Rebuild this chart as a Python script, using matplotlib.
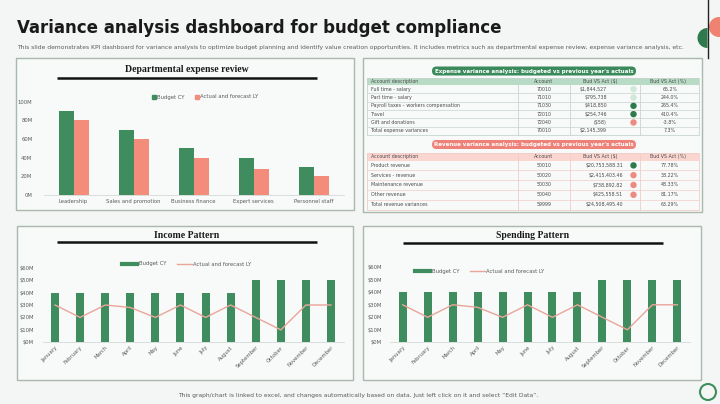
import matplotlib
matplotlib.use('Agg')
import matplotlib.pyplot as plt
from matplotlib import font_manager
from matplotlib.patches import Rectangle, FancyBboxPatch, Circle, Wedge
from matplotlib.lines import Line2D

# ---------------- data ----------------
dept_categories = ['Leadership', 'Sales and promotion', 'Business finance', 'Expert services', 'Personnel staff']
dept_budget_cy = [90, 70, 50, 40, 30]
dept_actual_ly = [80, 60, 40, 28, 20]
dept_yticks = [0, 20, 40, 60, 80, 100]
dept_ytick_labels = ['0M', '20M', '40M', '60M', '80M', '100M']

months = ['January', 'February', 'March', 'April', 'May', 'June', 'July', 'August',
          'September', 'October', 'November', 'December']
income_budget_cy = [40, 40, 40, 40, 40, 40, 40, 40, 50, 50, 50, 50]
income_actual_ly = [30, 20, 30, 28, 20, 30, 20, 30, 20, 10, 30, 30]
spending_budget_cy = [40, 40, 40, 40, 40, 40, 40, 40, 50, 50, 50, 50]
spending_actual_ly = [30, 20, 30, 28, 20, 30, 20, 30, 20, 10, 30, 30]
pattern_yticks = [0, 10, 20, 30, 40, 50, 60]
pattern_ytick_labels = ['$0M', '$10M', '$20M', '$30M', '$40M', '$50M', '$60M']

table_headers = ['Account description', 'Account', 'Bud VS Act ($)', 'Bud VS Act (%)']
expense_desc = ['Full time - salary', 'Part time - salary', 'Payroll taxes \u2013 workers compensation',
                'Travel', 'Gift and donations', 'Total expense variances']
expense_account = ['70010', '71010', '71030', '72010', '72040', '70010']
expense_amount = ['$1,844,527', '$795,738', '$418,850', '$254,746', '($58)', '$2,145,399']
expense_flag = ['light', 'light', 'dark', 'dark', 'red', None]
expense_pct = ['65.2%', '244.0%', '265.4%', '410.4%', '-3.8%', '7.3%']

revenue_desc = ['Product revenue', 'Services - revenue', 'Maintenance revenue', 'Other revenue',
                'Total revenue variances']
revenue_account = ['50010', '50020', '50030', '50040', '59999']
revenue_amount = ['$20,753,588.31', '$2,415,403.46', '$738,892.82', '$425,558.51', '$24,508,495.40']
revenue_flag = ['dark', 'red', 'red', 'red', None]
revenue_pct = ['77.78%', '38.22%', '48.33%', '81.17%', '63.29%']

# ---------------- style ----------------
GREEN = '#3f8d5e'
SALMON = '#f48c7b'
LINE_SALMON = '#eaa59b'
BG = '#f3f6f4'
PANEL = '#f7faf8'
EDGE = '#aab8af'
TXT = '#5a5a5a'
FLAG_COL = {'light': '#cfe8d8', 'dark': '#2f7a4d', 'red': '#ee8a84'}

# pick a narrow bold face for the headline if one is installed
TITLE_FONT = dict(family='Roboto')
narrow = [f for f in font_manager.fontManager.ttflist
          if (('Narrow' in f.name or 'Condensed' in f.name) or
              str(f.stretch) in ('condensed', 'semi-condensed', 'extra-condensed'))]
for f in narrow:
    if f.name.startswith(('Liberation', 'Roboto', 'Open Sans', 'Noto Sans', 'DejaVu Sans')):
        TITLE_FONT = dict(family=f.name, fontstretch=str(f.stretch))
        break

W, H = 720, 404
fig = plt.figure(figsize=(7.2, 4.04), dpi=100)
fig.patch.set_facecolor(BG)

ov = fig.add_axes([0, 0, 1, 1], zorder=0)
ov.set_xlim(0, W)
ov.set_ylim(H, 0)
ov.axis('off')


def ax_px(x0, y0, x1, y1, z=2):
    a = fig.add_axes([x0 / W, 1 - y1 / H, (x1 - x0) / W, (y1 - y0) / H], zorder=z)
    a.patch.set_alpha(0)
    return a


def fit(t, width_px):
    r = fig.canvas.get_renderer()
    bb = t.get_window_extent(r)
    t.set_fontsize(t.get_fontsize() * width_px / bb.width)


# header
title = ov.text(17, 28, 'Variance analysis dashboard for budget compliance', fontsize=14,
                fontweight='bold', color='#1a1a1a', ha='left', va='center', **TITLE_FONT)
sub = ov.text(17, 47, 'This slide demonstrates KPI dashboard for variance analysis to optimize budget planning '
              'and identify value creation opportunities. It includes metrics such as departmental expense '
              'review, expense variance analysis, etc.', fontsize=4, color=TXT, ha='left', va='center')
foot = ov.text(358, 396, 'This graph/chart is linked to excel, and changes automatically based on data. '
               'Just left click on it and select \u201cEdit Data\u201d.', fontsize=4, color=TXT,
               ha='center', va='center')
fig.canvas.draw()
fit(title, 488)
fit(sub, 663)
fit(foot, 354)

# decorations right
ov.add_patch(Wedge((707.5, 38), 10, 90, 270, fc='#2f7a4d', ec='none', zorder=3))
ov.add_patch(Circle((719, 27), 10, fc='#f08272', ec='none', zorder=3))
ov.plot([707.5, 707.5], [0, 58], color='#222222', lw=1, zorder=4)
ov.add_patch(Circle((708, 392), 8, fc='none', ec='#3f8d5e', lw=1.5, zorder=4))

# panels
for (x0, y0, x1, y1) in [(16, 58, 354, 210), (363, 58, 702, 212), (17, 226, 353, 380), (363, 226, 701, 380)]:
    ov.add_patch(Rectangle((x0, y0), x1 - x0, y1 - y0, fc=PANEL, ec=EDGE, lw=1.0, zorder=1))


def panel_title(text, cx, cy, ux0, ux1, uy):
    ov.text(cx, cy, text, fontsize=7, fontweight='bold', family='Liberation Serif',
            color='#1a1a1a', ha='center', va='center', zorder=3)
    ov.plot([ux0, ux1], [uy, uy], color='#111111', lw=1.8, zorder=3, solid_capstyle='butt')


panel_title('Departmental expense review', 187, 70, 57, 317, 78)
panel_title('Income Pattern', 187, 235, 57, 317, 242)
panel_title('Spending Pattern', 533, 235, 403, 663, 243)


def style_axes(a):
    for s in ['left', 'right', 'top']:
        a.spines[s].set_visible(False)
    a.spines['bottom'].set_color('#d4d9d6')
    a.spines['bottom'].set_linewidth(0.6)
    a.tick_params(axis='both', length=0, colors=TXT, labelsize=3.8, pad=6)


# ---- chart 1: departmental
a1 = ax_px(43.5, 101.7, 343.5, 195)
xs = range(len(dept_categories))
a1.bar([x - 0.125 for x in xs], dept_budget_cy, width=0.25, color=GREEN, label='Budget CY')
a1.bar([x + 0.125 for x in xs], dept_actual_ly, width=0.25, color=SALMON, label='Actual and forecast LY')
a1.set_xlim(-0.5, len(dept_categories) - 0.5)
a1.set_ylim(0, 100)
a1.set_yticks(dept_yticks)
a1.set_yticklabels(dept_ytick_labels)
a1.set_xticks(list(xs))
a1.set_xticklabels(dept_categories, fontsize=4.3, color='#444444')
style_axes(a1)
a1.tick_params(axis='y', pad=8)
a1.tick_params(axis='x', pad=3)
h1 = [Line2D([], [], marker='s', ls='none', color=GREEN, markersize=2.5),
      Line2D([], [], marker='s', ls='none', color=SALMON, markersize=2.5)]
a1.legend(h1, ['Budget CY', 'Actual and forecast LY'], loc='center', bbox_to_anchor=(205, 97),
          bbox_transform=ov.transData, ncol=2, frameon=False, fontsize=3.8, handlelength=0.8,
          handletextpad=0.2, columnspacing=2.0, labelcolor=TXT)


def pattern_chart(box, budget, actual, legend_xy):
    a = ax_px(*box)
    xs = range(len(months))
    a.bar(list(xs), budget, width=0.32, color=GREEN)
    a.plot(list(xs), actual, color=LINE_SALMON, lw=1.0)
    a.set_xlim(-0.5, len(months) - 0.5)
    a.set_ylim(0, 60)
    a.set_yticks(pattern_yticks)
    a.set_yticklabels(pattern_ytick_labels)
    a.set_xticks(list(xs))
    a.set_xticklabels(months, rotation=45, ha='right', rotation_mode='anchor', fontsize=4.2,
                      color='#444444')
    style_axes(a)
    a.tick_params(axis='x', pad=2)
    h = [Line2D([], [], color=GREEN, lw=3), Line2D([], [], color=LINE_SALMON, lw=1)]
    a.legend(h, ['Budget CY', 'Actual and forecast LY'], loc='center', bbox_to_anchor=legend_xy,
             bbox_transform=ov.transData, ncol=2, frameon=False, fontsize=3.8, handlelength=2.8,
             handletextpad=0.3, columnspacing=2.0, labelcolor=TXT)
    return a


pattern_chart((42.5, 267.7, 343.5, 342.3), income_budget_cy, income_actual_ly, (187, 264))
pattern_chart((390.2, 267.3, 689.8, 342.3), spending_budget_cy, spending_actual_ly, (480, 271.5))


# ---- tables
def table(pill_text, pill_col, pill_y, head_y0, head_y1, row_h, head_col, line_col,
          desc, acct, amt, flag, pct, amt_right):
    x0, x1 = 367, 699
    cols = [518, 570, 640]
    ov.add_patch(FancyBboxPatch((432, pill_y - 4.5), 204, 9,
                                boxstyle='round,pad=0,rounding_size=4.5',
                                fc=pill_col, ec='none', zorder=3))
    ov.text(534, pill_y, pill_text, fontsize=4.0, fontweight='bold', color='white',
            ha='center', va='center', zorder=4)
    n = len(desc)
    y_end = head_y1 + n * row_h
    ov.add_patch(Rectangle((x0, head_y0), x1 - x0, head_y1 - head_y0, fc=head_col, ec='none', zorder=2))
    ov.add_patch(Rectangle((x0, head_y0), x1 - x0, y_end - head_y0, fc='none', ec=line_col,
                           lw=0.6, zorder=3))
    for cx in cols:
        ov.plot([cx, cx], [head_y0, y_end], color=line_col, lw=0.6, zorder=3)
    for i in range(1, n):
        yy = head_y1 + i * row_h
        ov.plot([x0, x1], [yy, yy], color=line_col, lw=0.5, zorder=3)
    hy = (head_y0 + head_y1) / 2
    kw = dict(fontsize=3.4, color='#4a4a4a', va='center', zorder=4)
    ov.text(371, hy, table_headers[0], ha='left', **kw)
    ov.text(544, hy, table_headers[1], ha='center', **kw)
    ov.text(600, hy, table_headers[2], ha='center', **kw)
    ov.text(668, hy, table_headers[3], ha='center', **kw)
    for i in range(n):
        cy = head_y1 + (i + 0.5) * row_h
        ov.text(371, cy, desc[i], ha='left', **kw)
        ov.text(544, cy, acct[i], ha='center', **kw)
        ov.text(amt_right, cy, amt[i], ha='right', **kw)
        ov.text(670, cy, pct[i], ha='center', **kw)
        if flag[i] is not None:
            ov.add_patch(Circle((633.5, cy), 3.2, fc=FLAG_COL[flag[i]], ec='none', zorder=4))


table("Expense variance analysis: budgeted vs previous year's actuals", '#3a8a5b', 71,
      77.5, 85, 8.33, '#b8dbc6', '#c9d4cd',
      expense_desc, expense_account, expense_amount, expense_flag, expense_pct, 607)
table("Revenue variance analysis: budgeted vs previous year's actuals", '#ee8278', 144.5,
      152.5, 160.5, 9.8, '#fbd6d1', '#f0cdc8',
      revenue_desc, revenue_account, revenue_amount, revenue_flag, revenue_pct, 623)

fig.savefig('out.png', dpi=100, facecolor=BG)
